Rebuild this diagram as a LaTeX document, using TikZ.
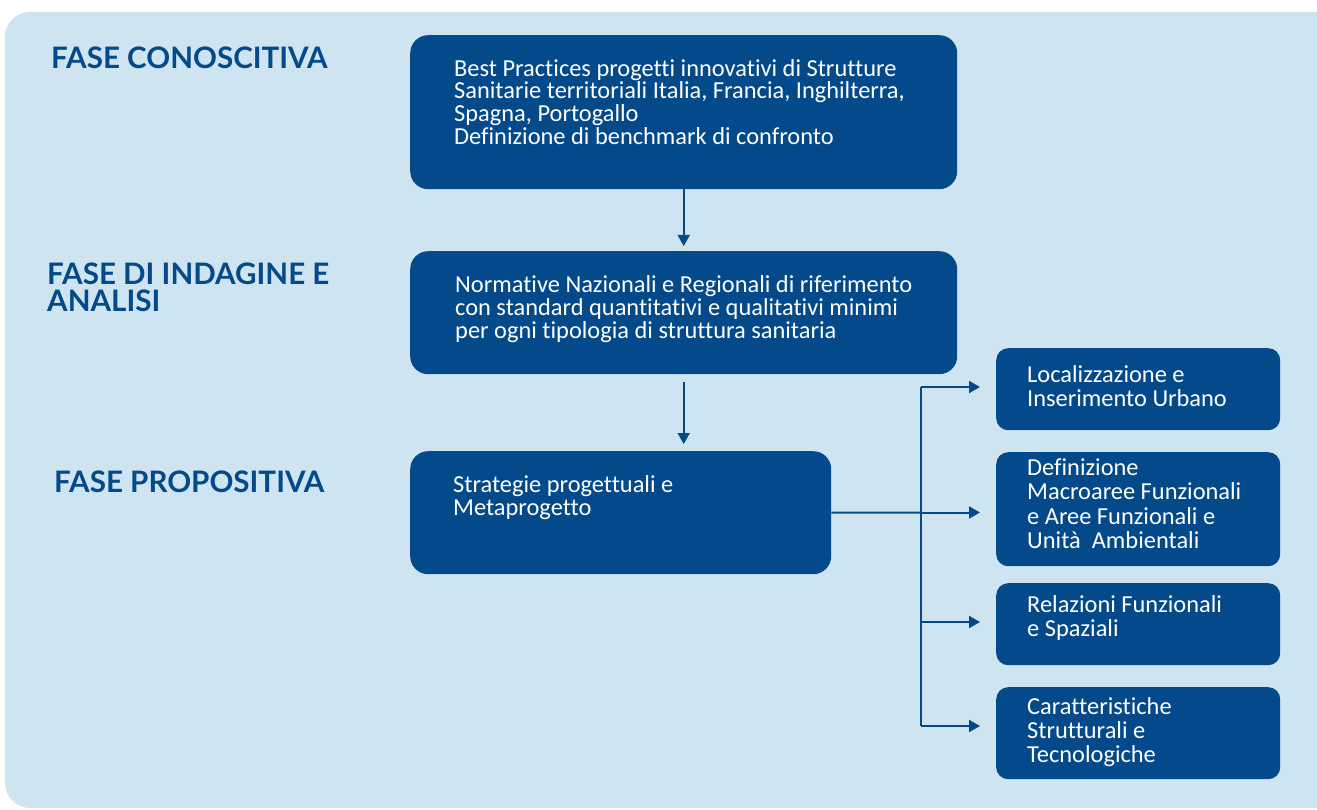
\documentclass[tikz,border=0pt]{standalone}
\usepackage{fontspec}
\setmainfont{Carlito}[Ligatures=NoCommon]
\newfontfamily\titolofont{Lato}
\usetikzlibrary{positioning, calc, arrows.meta}
\definecolor{fondo}{RGB}{207,228,241}
\definecolor{blu}{RGB}{4,73,137}

\begin{document}
\begin{tikzpicture}[x=1pt, y=-1pt,
    box/.style={fill=blu, rounded corners=18pt, inner sep=0pt, anchor=north west},
    boxr/.style={box, rounded corners=12pt, minimum width=284},
    testo/.style={text=white, align=left, inner sep=0pt, anchor=base west,
        font=\fontsize{24.4}{22.8}\selectfont},
    testor/.style={testo, font=\fontsize{24.4}{24.2}\selectfont},
    fase/.style={text=blu, align=left, inner sep=0pt, anchor=base west,
        font=\titolofont\bfseries\fontsize{29.6}{27}\selectfont},
    linea/.style={blu, line width=2pt},
    freccia/.style={linea, -{Triangle[width=12pt, length=11pt]}}]
    % 背景
    \useasboundingbox (0,0) rectangle (1317,810);
    \fill[fondo, rounded corners=25pt] (5,12) rectangle (1345,808);

    % フェーズ名 (base = 最終行のベースライン)
    \node[fase] (f1) at (51,69) {FASE CONOSCITIVA};
    \node[fase] (f2) at (47,312) {FASE DI INDAGINE E\\ANALISI};
    \node[fase] (f3) at (54,492) {FASE PROPOSITIVA};

    % ボックス (左)
    \node[box, minimum width=547, minimum height=154] (b1) at (410,35) {};
    \node[box, minimum width=547, minimum height=123] (b2) at (410,251) {};
    \node[box, minimum width=421, minimum height=123] (b3) at (410,451) {};
    \node[testo] (t1) at ($(b1.north west)+(44,109.5)$) {Best Practices progetti innovativi di Strutture\\
        Sanitarie territoriali Italia, Francia, Inghilterra,\\
        Spagna, Portogallo\\
        Definizione di benchmark di confronto};
    \node[testo] (t2) at ($(b2.north west)+(45,87)$) {Normative Nazionali e Regionali di riferimento\\
        con standard quantitativi e qualitativi minimi\\
        per ogni tipologia di struttura sanitaria};
    \node[testo] (t3) at ($(b3.north west)+(43,64)$) {Strategie progettuali e\\Metaprogetto};

    % ボックス (右)
    \node[boxr, minimum height=82] (r1) at (996,348) {};
    \node[boxr, minimum height=114] (r2) at (996,452) {};
    \node[boxr, minimum height=82] (r3) at (996,583) {};
    \node[boxr, minimum height=92] (r4) at (996,687) {};
    \node[testor] (s1) at ($(r1.north west)+(31,58.7)$) {Localizzazione e\\Inserimento Urbano};
    \node[testor] (s2) at ($(r2.north west)+(31,96.3)$) {Definizione\\Macroaree Funzionali\\e Aree Funzionali e\\Unità\ \ Ambientali};
    \node[testor] (s3) at ($(r3.north west)+(31,53.7)$) {Relazioni Funzionali\\e Spaziali};
    \node[testor] (s4) at ($(r4.north west)+(31,75.7)$) {Caratteristiche\\Strutturali e\\Tecnologiche};

    % 矢印
    \draw[freccia, shorten >=5pt] (b1.south) -- (b2.north);
    \draw[freccia, shorten <=8pt, shorten >=7pt] (b2.south) -- (b2.south |- b3.north);

    \coordinate (k1) at (921,387);
    \coordinate (k2) at (921,512.5);
    \coordinate (k3) at (921,622);
    \coordinate (k4) at (921,726);
    \draw[linea] (b3.east) -- (k2);
    \draw[linea] (k1) -- (k4);
    \foreach \k/\r in {k1/r1, k2/r2, k3/r3, k4/r4}
        \draw[freccia, shorten >=16pt] (\k) -- (\k -| \r.west);
\end{tikzpicture}
\end{document}
